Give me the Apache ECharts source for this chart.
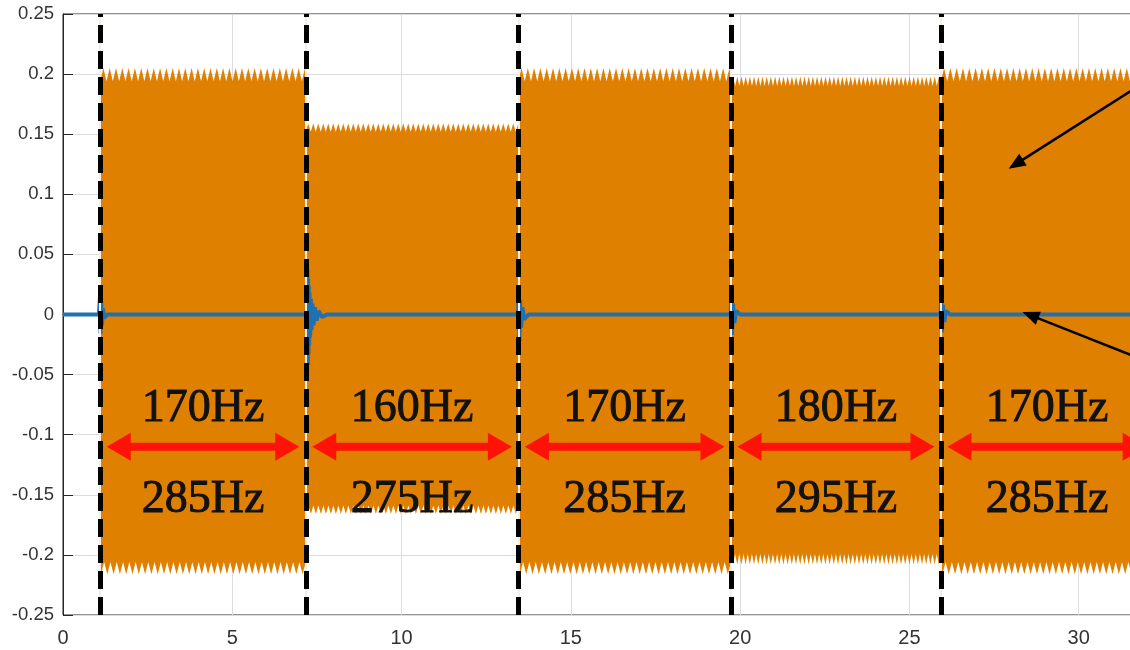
<!DOCTYPE html>
<html><head><meta charset="utf-8">
<script src="https://cdn.jsdelivr.net/npm/echarts@6/dist/echarts.min.js"></script>
<style>html,body{margin:0;padding:0;background:#fff}#c{width:1130px;height:650px}</style>
</head><body><div id="c"></div>
<script>
// ---------- data ----------
const xTickValues = [0, 5, 10, 15, 20, 25, 30, 35];
const yTickValues = [-0.25, -0.2, -0.15, -0.1, -0.05, 0, 0.05, 0.1, 0.15, 0.2, 0.25];
// switching instants (s)
const switchTimes = [1.1, 7.17, 13.45, 19.73, 25.93, 32.2];
// orange signal envelope per segment
const orangeStart = [1.1, 7.17, 13.45, 19.73, 25.93];
const orangeEnd = [7.17, 13.45, 19.73, 25.93, 35];
const topPeak = [0.205, 0.159, 0.205, 0.198, 0.205];
const topBase = [0.194, 0.152, 0.194, 0.190, 0.194];
const botBase = [-0.206, -0.159, -0.206, -0.199, -0.206];
const botPeak = [-0.216, -0.166, -0.216, -0.208, -0.216];
// blue signal (near zero with transients at the switching instants)
const blueT = [0, 1.06, 1.09, 1.11, 1.13, 1.15, 1.18, 1.22, 1.3,
  7.2, 7.22, 7.23, 7.24, 7.25, 7.26, 7.27, 7.28, 7.3, 7.32, 7.34, 7.37, 7.4, 7.44, 7.49, 7.55, 7.65, 7.8,
  13.44, 13.46, 13.48, 13.5, 13.53, 13.57, 13.62, 13.75,
  19.72, 19.74, 19.76, 19.79, 19.83, 19.88, 20.0,
  25.92, 25.94, 25.96, 25.99, 26.03, 26.08, 26.2, 35];
const blueV = [0, 0, 0.014, -0.016, 0.01, -0.009, 0.005, -0.003, 0,
  0, 0.037, -0.042, 0.03, -0.033, 0.024, -0.026, 0.018, -0.019, 0.013, -0.013, 0.009, -0.009, 0.006, -0.005, 0.003, -0.002, 0,
  0, 0.02, -0.022, 0.012, -0.011, 0.006, -0.004, 0,
  0, 0.016, -0.017, 0.009, -0.007, 0.003, 0,
  0, 0.013, -0.015, 0.008, -0.006, 0.003, 0, 0];
// frequency annotations
const freqUpper = ['170Hz', '160Hz', '170Hz', '180Hz', '170Hz'];
const freqLower = ['285Hz', '275Hz', '285Hz', '295Hz', '285Hz'];
const upperTextY = -0.0785;
const lowerTextY = -0.1545;
const arrowY = -0.11;
// black pointer arrows: tail (x,y) -> tip (x,y)
const pointerTailX = [32.09, 32.09];
const pointerTailY = [0.1958, -0.0398];
const pointerTipX = [27.93, 28.34];
const pointerTipY = [0.1213, 0.002];

// ---------- styles ----------
const ORANGE = '#e08000';
const BLUE = '#2070b2';
const RED = '#ff1208';
const toothPx = [6.3, 5, 6.3, 4.2, 6.3];

const chart = echarts.init(document.getElementById('c'), null, {renderer: 'canvas'});

function orangeItem(params, api) {
  const i = params.dataIndex;
  const x0 = api.coord([api.value(0), 0])[0];
  const x1 = api.coord([api.value(1), 0])[0];
  const yTP = api.coord([0, api.value(2)])[1];
  const yTB = api.coord([0, api.value(3)])[1];
  const yBB = api.coord([0, api.value(4)])[1];
  const yBP = api.coord([0, api.value(5)])[1];
  const p = toothPx[i];
  const pts = [];
  for (let x = x0; x < x1 - p / 2; x += p) { pts.push([x, yTB]); pts.push([x + p / 2, yTP]); }
  pts.push([x1, yTB]);
  pts.push([x1, yBB]);
  for (let x = x1; x > x0 + p / 2; x -= p) { pts.push([x, yBB]); pts.push([x - p / 2, yBP]); }
  pts.push([x0, yBB]);
  return {type: 'polygon', shape: {points: pts}, style: {fill: ORANGE}};
}

function redArrowItem(params, api) {
  const a = api.coord([api.value(0), api.value(2)]);
  const b = api.coord([api.value(1), api.value(2)]);
  const gap = 6.5, hl = 24, hh = 14;
  const xs = a[0] + gap, xe = b[0] - gap, y = a[1];
  return {type: 'group', children: [
    {type: 'line', shape: {x1: xs + hl - 2, y1: y, x2: xe - hl + 2, y2: y}, style: {stroke: RED, lineWidth: 8}},
    {type: 'polygon', shape: {points: [[xs, y], [xs + hl, y - hh], [xs + hl, y + hh]]}, style: {fill: RED}},
    {type: 'polygon', shape: {points: [[xe, y], [xe - hl, y - hh], [xe - hl, y + hh]]}, style: {fill: RED}}
  ]};
}

function textItem(params, api) {
  const i = params.dataIndex;
  const pu = api.coord([api.value(0), api.value(1)]);
  const pl = api.coord([api.value(0), api.value(2)]);
  const st = {fontSize: 46, fontFamily: '"Liberation Serif", "DejaVu Serif", serif', fill: '#111',
              stroke: '#111', lineWidth: 0.9, align: 'center', verticalAlign: 'middle'};
  return {type: 'group', children: [
    {type: 'text', x: pu[0], y: pu[1], style: Object.assign({text: freqUpper[i]}, st)},
    {type: 'text', x: pl[0], y: pl[1], style: Object.assign({text: freqLower[i]}, st)}
  ]};
}

function pointerItem(params, api) {
  const t = api.coord([api.value(0), api.value(1)]);
  const h = api.coord([api.value(2), api.value(3)]);
  const dx = h[0] - t[0], dy = h[1] - t[1];
  const d = Math.hypot(dx, dy), ux = dx / d, uy = dy / d;
  const len = 17, half = 7;
  const bx = h[0] - ux * len, by = h[1] - uy * len;
  return {type: 'group', children: [
    {type: 'line', shape: {x1: t[0], y1: t[1], x2: bx + ux * 2, y2: by + uy * 2}, style: {stroke: '#000', lineWidth: 2.5}},
    {type: 'polygon', shape: {points: [[h[0], h[1]], [bx - uy * half, by + ux * half], [bx + uy * half, by - ux * half]]}, style: {fill: '#000'}}
  ]};
}

const segCount = freqUpper.length;
const option = {
  animation: false,
  backgroundColor: '#fff',
  grid: {left: 63, top: 14, right: -118, bottom: 35, containLabel: false, outerBoundsMode: 'none',
         show: true, borderColor: '#262626', borderWidth: 1, backgroundColor: 'transparent'},
  xAxis: {
    type: 'value', min: xTickValues[0], max: xTickValues[xTickValues.length - 1], interval: 5,
    axisLine: {show: true, lineStyle: {color: '#262626', width: 1}},
    axisTick: {show: true, inside: true, length: 10, lineStyle: {color: '#262626'}},
    axisLabel: {color: '#333', fontSize: 20, fontFamily: '"Liberation Sans", Arial, sans-serif', margin: 13},
    splitLine: {show: true, lineStyle: {color: '#dcdcdc', width: 1}}
  },
  yAxis: {
    type: 'value', min: yTickValues[0], max: yTickValues[yTickValues.length - 1], interval: 0.05,
    axisLine: {show: true, lineStyle: {color: '#262626', width: 1}},
    axisTick: {show: true, inside: true, length: 10, lineStyle: {color: '#262626'}},
    axisLabel: {color: '#333', fontSize: 18.5, fontFamily: '"Liberation Sans", Arial, sans-serif', margin: 9,
      formatter: v => String(Math.round(v * 100) / 100)},
    splitLine: {show: true, lineStyle: {color: '#dcdcdc', width: 1}}
  },
  series: [
    {type: 'custom', name: 'orange', z: 2, clip: true, renderItem: orangeItem,
     data: orangeStart.map((s, i) => [s, orangeEnd[i], topPeak[i], topBase[i], botBase[i], botPeak[i]])},
    {type: 'line', name: 'blue', z: 3, showSymbol: false, symbol: 'none', clip: true,
     lineStyle: {color: BLUE, width: 4}, data: blueT.map((t, i) => [t, blueV[i]])},
    {type: 'line', name: 'gaps', z: 4, data: [], silent: true,
     markLine: {silent: true, symbol: ['none', 'none'], label: {show: false}, animation: false,
       lineStyle: {color: '#f3ede4', width: 2, type: 'solid'},
       data: switchTimes.map(t => ({xAxis: t}))}},
    {type: 'line', name: 'switch', z: 5, data: [], silent: true,
     markLine: {silent: true, symbol: ['none', 'none'], label: {show: false}, animation: false,
       lineStyle: {color: '#000', width: 5, type: [18, 8]},
       data: switchTimes.map(t => ({xAxis: t}))}},
    {type: 'custom', name: 'arrows', z: 6, clip: true, renderItem: redArrowItem,
     data: switchTimes.slice(0, segCount).map((s, i) => [s, switchTimes[i + 1], arrowY])},
    {type: 'custom', name: 'texts', z: 7, clip: true, renderItem: textItem,
     data: switchTimes.slice(0, segCount).map((s, i) => [(s + switchTimes[i + 1]) / 2, upperTextY, lowerTextY])},
    {type: 'custom', name: 'pointers', z: 8, clip: false, renderItem: pointerItem,
     data: pointerTailX.map((x, i) => [x, pointerTailY[i], pointerTipX[i], pointerTipY[i]])}
  ]
};
chart.setOption(option);
</script>
</body></html>
